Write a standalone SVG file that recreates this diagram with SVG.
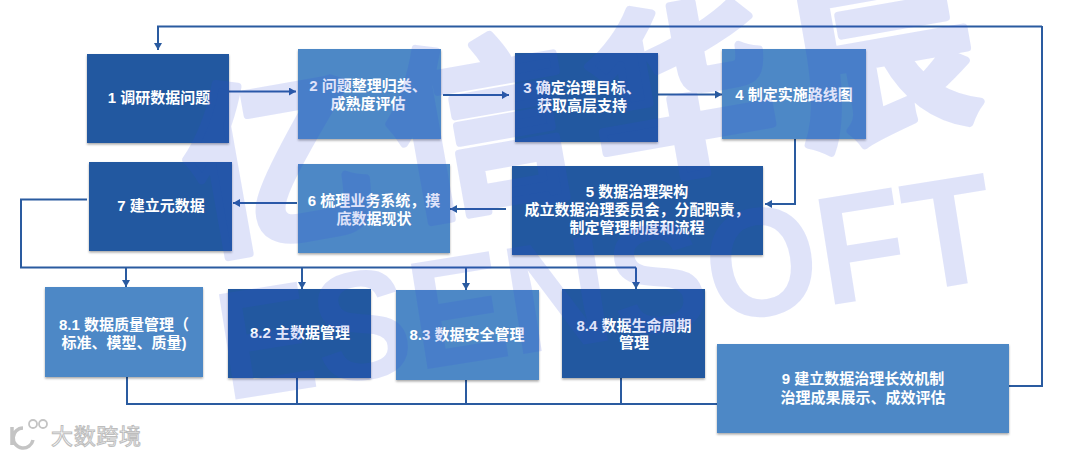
<svg xmlns="http://www.w3.org/2000/svg" width="1080" height="456" viewBox="0 0 1080 456">
<defs>
<filter id="sh" x="-5%" y="-5%" width="110%" height="115%"><feDropShadow dx="0" dy="1.5" stdDeviation="1.2" flood-color="#000" flood-opacity="0.35"/></filter>
<marker id="ah" markerUnits="userSpaceOnUse" markerWidth="8" markerHeight="8" refX="7" refY="4" orient="auto"><path d="M0,0 L7,4 L0,8 Z" fill="#2a5ba0"/></marker>
</defs>
<style>
.d{fill:#2158a0;filter:url(#sh)}
.l{fill:#4d88c6;filter:url(#sh)}
.t{fill:#fff;font:bold 15px "Liberation Sans","Noto Sans CJK SC",sans-serif;text-anchor:middle}
.c{fill:none;stroke:#2a5ba0;stroke-width:2}
.w{fill:#304bde;stroke:#304bde;font-weight:bold;font-family:"Liberation Sans","Noto Sans CJK SC",sans-serif}
</style>
<rect width="1080" height="456" fill="#fff"/>
<g id="connectors">
<path class="c" marker-end="url(#ah)" d="M1042,26.5H158V50"/>
<path class="c" d="M1009,386H1042V26"/>
<path class="c" marker-end="url(#ah)" d="M229,91.5H296"/>
<path class="c" marker-end="url(#ah)" d="M443,95H509"/>
<path class="c" marker-end="url(#ah)" d="M658,94.5H722"/>
<path class="c" marker-end="url(#ah)" d="M795,139V204H765"/>
<path class="c" marker-end="url(#ah)" d="M506,209H450"/>
<path class="c" marker-end="url(#ah)" d="M297,203H233"/>
<path class="c" d="M87,199.5H21V267.5H636"/>
<path class="c" marker-end="url(#ah)" d="M126,267.5V287"/>
<path class="c" marker-end="url(#ah)" d="M302,267.5V289"/>
<path class="c" marker-end="url(#ah)" d="M466,267.5V290"/>
<path class="c" marker-end="url(#ah)" d="M636,267.5V289"/>
<path class="c" d="M127,377V404H717"/>
<path class="c" d="M297,378V404M466,380V404M621,378V404"/>
</g>
<g id="n1"><rect class="d" x="87" y="54" width="142" height="89"/><text class="t" x="159" y="103">1 调研数据问题</text></g>
<g id="n2"><rect class="l" x="298" y="49" width="143" height="90"/><text class="t" x="368" y="91">2 问题整理归类、</text><text class="t" x="368" y="109">成熟度评估</text></g>
<g id="n3"><rect class="d" x="515" y="53" width="143" height="89"/><text class="t" x="582" y="93">3 确定治理目标、</text><text class="t" x="582" y="111">获取高层支持</text></g>
<g id="n4"><rect class="l" x="722" y="49" width="144" height="90"/><text class="t" x="794" y="100">4 制定实施路线图</text></g>
<g id="n5"><rect class="d" x="512" y="166" width="251" height="89"/><text class="t" x="637" y="197">5 数据治理架构</text><text class="t" x="637" y="215">成立数据治理委员会，分配职责，</text><text class="t" x="637" y="233">制定管理制度和流程</text></g>
<g id="n6"><rect class="l" x="298" y="164" width="152" height="89"/><text class="t" x="374" y="206">6 梳理业务系统，摸</text><text class="t" x="374" y="224">底数据现状</text></g>
<g id="n7"><rect class="d" x="89" y="162" width="143" height="89"/><text class="t" x="161" y="211">7 建立元数据</text></g>
<g id="n81"><rect class="l" x="45" y="287" width="158" height="90"/><text class="t" x="124" y="330">8.1 数据质量管理（</text><text class="t" x="124" y="348">标准、模型、质量)</text></g>
<g id="n82"><rect class="d" x="228" y="289" width="143" height="89"/><text class="t" x="300" y="338">8.2 主数据管理</text></g>
<g id="n83"><rect class="l" x="396" y="290" width="143" height="90"/><text class="t" x="467" y="340">8.3 数据安全管理</text></g>
<g id="n84"><rect class="d" x="562" y="289" width="143" height="89"/><text class="t" x="634" y="331">8.4 数据生命周期</text><text class="t" x="634" y="348">管理</text></g>
<g id="n9"><rect class="l" x="717" y="344" width="292" height="89"/><text class="t" x="863" y="384">9 建立数据治理长效机制</text><text class="t" x="863" y="403">治理成果展示、成效评估</text></g>
<g id="watermark" opacity=".15">
<text class="w" transform="translate(198,246) rotate(-10)" font-size="185" stroke-width="8" stroke-linejoin="round" letter-spacing="20">亿信华辰</text>
<text class="w" transform="translate(226,401) rotate(-9)" font-size="155" stroke-width="0" textLength="785" lengthAdjust="spacingAndGlyphs">ESENSOFT</text>
</g>
<g id="logo"><path d="M12,427V445M23,428a10,10 0 1 0 10,12" fill="none" stroke="#c4c4c4" stroke-width="3.5"/><circle cx="33" cy="424" r="4" fill="none" stroke="#c4c4c4" stroke-width="1.8"/><circle cx="43" cy="424" r="4" fill="none" stroke="#c4c4c4" stroke-width="1.8"/>
<text x="51" y="444" font-family="'Noto Sans CJK SC',sans-serif" font-size="22" fill="#fff" stroke="#bdbdbd" stroke-width="1" textLength="90">大数跨境</text></g>
</svg>
